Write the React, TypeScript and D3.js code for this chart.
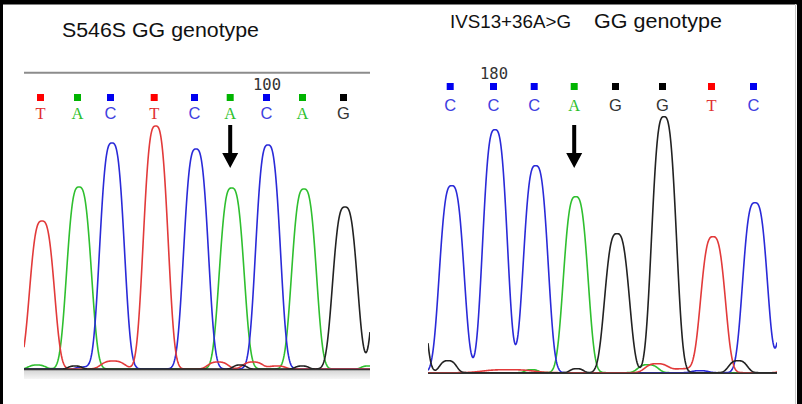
import React from "react";
import * as d3 from "d3";

// ---------- DATA ----------
const LEFT_TITLE = "S546S GG genotype";
const RIGHT_TITLE_A = "IVS13+36A>G";
const RIGHT_TITLE_B = "GG genotype";
const LEFT_TICK = "100";
const RIGHT_TICK = "180";

// left panel base calls (scan position, signal height)
const LEFT_BASES = ["T", "A", "C", "T", "C", "A", "C", "A", "G"];
const LEFT_POS = [18, 55, 88, 131.7, 172, 207.7, 244, 280, 321];
const LEFT_HEIGHTS = [148, 182, 226, 243, 220, 181, 224, 180, 162];
// minor/background peaks: channel, position, height, width
const LEFT_MINOR_BASE = ["A", "G", "C", "T", "T", "G", "T", "T", "G", "A", "G"];
const LEFT_MINOR_POS = [13, 51, 59, 89, 194, 216, 229, 253, 278, 344, 363];
const LEFT_MINOR_H = [4, 3, 2, 8, 7, 4, 7, 3, 3, 3, 180];
const LEFT_MINOR_W = [10, 8, 8, 14, 12, 8, 12, 10, 8, 8, 14.5];
const LEFT_TICK_INDEX = 6;
const LEFT_ARROW_INDEX = 5;

const RIGHT_BASES = ["C", "C", "C", "A", "G", "G", "T", "C"];
const RIGHT_POS = [23.7, 67, 107.7, 147.7, 189, 236, 285, 327];
const RIGHT_HEIGHTS = [187, 243, 207, 176, 139, 256, 136, 170];
const RIGHT_MINOR_BASE = ["G", "G", "T", "A", "G", "A", "T", "T", "C", "G", "T", "C"];
const RIGHT_MINOR_POS = [-18, 20, 80, 103.7, 148.7, 220, 229, 257, 272, 310, 362, 367];
const RIGHT_MINOR_H = [200, 12, 3, 3, 4, 8, 9, 4, 2, 12, 8, 170];
const RIGHT_MINOR_W = [14.5, 10, 30, 8, 8, 12, 14, 14, 10, 11, 10, 14.5];
const RIGHT_TICK_INDEX = 1;
const RIGHT_ARROW_INDEX = 3;

// ---------- STYLE ----------
const TRACE_COLOR: Record<string, string> = {
  A: "#2fbf2f",
  C: "#2a2ad8",
  G: "#222222",
  T: "#e23a3a",
};
const SQUARE_COLOR: Record<string, string> = {
  A: "#00b400",
  C: "#0000f0",
  G: "#000000",
  T: "#ff0000",
};
const LETTER_COLOR: Record<string, string> = {
  A: "#2cbf2c",
  C: "#4040e0",
  G: "#333333",
  T: "#e03030",
};
const LETTER_FONT: Record<string, string> = {
  A: "'Liberation Serif', serif",
  T: "'Liberation Serif', serif",
  C: "'Liberation Sans', sans-serif",
  G: "'Liberation Sans', sans-serif",
};

type Peak = { base: string; pos: number; h: number; w: number };

function peakValue(p: Peak, x: number) {
  const d = Math.abs(x - p.pos) / p.w;
  return p.h * Math.exp(-d * d * d);
}

function buildPeaks(bases: string[], pos: number[], hs: number[]): Peak[] {
  return bases.map((b, i) => ({ base: b, pos: pos[i], h: hs[i], w: 14.5 }));
}
function buildMinor(bases: string[], pos: number[], hs: number[], ws: number[]): Peak[] {
  return bases.map((b, i) => ({ base: b, pos: pos[i], h: hs[i], w: ws[i] }));
}

interface PanelProps {
  x0: number;
  x1: number;
  domain: [number, number];
  baseline: number;
  bases: string[];
  pos: number[];
  heights: number[];
  minor: Peak[];
  squareY: number;
  letterY: number;
  tickLabel: string;
  tickIndex: number;
  tickY: number;
  arrowIndex: number;
  clipId: string;
  grayTop?: number;
  band?: boolean;
}

function Panel(props: PanelProps) {
  const x = d3.scaleLinear().domain(props.domain).range([props.x0, props.x1]);
  const y = d3.scaleLinear().domain([0, 250]).range([props.baseline, props.baseline - 250]);
  const peaks = [...buildPeaks(props.bases, props.pos, props.heights), ...props.minor];
  const order = ["A", "C", "T", "G"];
  const samples = d3.range(props.domain[0], props.domain[1] + 0.01, 0.5);
  const line = d3
    .line<[number, number]>()
    .x((d) => x(d[0]))
    .y((d) => y(d[1]))
    .curve(d3.curveLinear);
  const traces = order.map((b) => {
    const ps = peaks.filter((p) => p.base === b);
    const pts: [number, number][] = samples.map((s) => [s, d3.sum(ps, (p) => peakValue(p, s))]);
    return { b, d: line(pts) as string };
  });
  const ax = x(props.pos[props.arrowIndex]) - 1.5;
  return (
    <g>
      <defs>
        <clipPath id={props.clipId}>
          <rect x={props.x0} y={0} width={props.x1 - props.x0} height={404} />
        </clipPath>
        <linearGradient id={props.clipId + "g"} x1="0" y1="0" x2="0" y2="1">
          <stop offset="0" stopColor="#d4d4d4" />
          <stop offset="1" stopColor="#f6f6f6" />
        </linearGradient>
      </defs>
      {props.grayTop !== undefined && (
        <line x1={props.x0} x2={props.x1} y1={props.grayTop} y2={props.grayTop} stroke="#8c8c8c" strokeWidth={2} />
      )}
      {props.band && (
        <rect x={props.x0} y={props.baseline + 1} width={props.x1 - props.x0} height={9} fill={`url(#${props.clipId}g)`} />
      )}
      <text
        x={x(props.pos[props.tickIndex]) - 1}
        y={props.tickY}
        textAnchor="middle"
        fontFamily="'DejaVu Sans Mono', monospace"
        fontSize={15.5}
        fill="#333"
      >
        {props.tickLabel}
      </text>
      {props.bases.map((b, i) => {
        const cx = x(props.pos[i]) - 1.5;
        return (
          <g key={i}>
            <rect x={cx - 3.5} y={props.squareY} width={7} height={7} fill={SQUARE_COLOR[b]} />
            <text
              x={cx}
              y={props.letterY}
              textAnchor="middle"
              fontFamily={LETTER_FONT[b]}
              fontSize={16.5}
              fill={LETTER_COLOR[b]}
            >
              {b}
            </text>
          </g>
        );
      })}
      <g clipPath={`url(#${props.clipId})`}>
        {traces.map((t) => (
          <path key={t.b} d={t.d} fill="none" stroke={TRACE_COLOR[t.b]} strokeWidth={1.6} />
        ))}
      </g>
      <line x1={props.x0} x2={props.x1} y1={props.baseline + 0.5} y2={props.baseline + 0.5} stroke="#333" strokeWidth={1.6} />
      <path
        d={`M${ax - 2},125 L${ax + 2},125 L${ax + 2},153 L${ax + 8},153 L${ax},168 L${ax - 8},153 L${ax - 2},153 Z`}
        fill="#000"
      />
    </g>
  );
}

export default function App() {
  return (
    <svg
      width={802}
      height={404}
      style={{ position: "absolute", left: 0, top: 0, display: "block", background: "#fff" }}
    >
      <rect x={0} y={0} width={802} height={404} fill="#fff" />
      {/* frame */}
      <rect x={0} y={0} width={802} height={4.5} fill="#000" />
      <rect x={0} y={0} width={3} height={404} fill="#000" />
      <rect x={797} y={0} width={5} height={404} fill="#000" />
      <line x1={795.5} x2={795.5} y1={4} y2={404} stroke="#c8c8c8" strokeWidth={1} />

      <text x={62} y={37} fontFamily="'Liberation Sans', Arial, sans-serif" fontSize={20} textLength={197} lengthAdjust="spacingAndGlyphs" fill="#111">
        {LEFT_TITLE}
      </text>
      <text x={450} y={27.5} fontFamily="'Liberation Sans', Arial, sans-serif" fontSize={17.5} textLength={121} lengthAdjust="spacingAndGlyphs" fill="#111">
        {RIGHT_TITLE_A}
      </text>
      <text x={594} y={27.5} fontFamily="'Liberation Sans', Arial, sans-serif" fontSize={19.5} textLength={128} lengthAdjust="spacingAndGlyphs" fill="#111">
        {RIGHT_TITLE_B}
      </text>

      <Panel
        x0={24}
        x1={370}
        domain={[0, 346]}
        baseline={369}
        bases={LEFT_BASES}
        pos={LEFT_POS}
        heights={LEFT_HEIGHTS}
        minor={buildMinor(LEFT_MINOR_BASE, LEFT_MINOR_POS, LEFT_MINOR_H, LEFT_MINOR_W)}
        squareY={94}
        letterY={119}
        tickLabel={LEFT_TICK}
        tickIndex={LEFT_TICK_INDEX}
        tickY={89.5}
        arrowIndex={LEFT_ARROW_INDEX}
        clipId="clipL"
        grayTop={72.7}
        band
      />
      <Panel
        x0={428}
        x1={777}
        domain={[0, 349]}
        baseline={372.7}
        bases={RIGHT_BASES}
        pos={RIGHT_POS}
        heights={RIGHT_HEIGHTS}
        minor={buildMinor(RIGHT_MINOR_BASE, RIGHT_MINOR_POS, RIGHT_MINOR_H, RIGHT_MINOR_W)}
        squareY={83}
        letterY={111}
        tickLabel={RIGHT_TICK}
        tickIndex={RIGHT_TICK_INDEX}
        tickY={78.5}
        arrowIndex={RIGHT_ARROW_INDEX}
        clipId="clipR"
      />
    </svg>
  );
}
